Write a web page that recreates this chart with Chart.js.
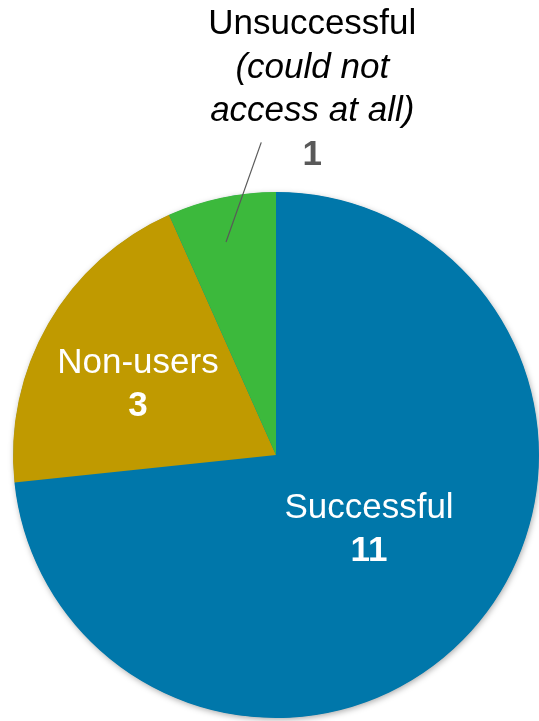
<!DOCTYPE html>
<html>
<head>
<meta charset="utf-8">
<script src="https://cdn.jsdelivr.net/npm/chart.js@4/dist/chart.umd.min.js"></script>
<style>
    body { margin: 0; background: #ffffff; }
    #wrap { width: 539px; height: 721px; }
</style>
</head>
<body>
<div id="wrap"><canvas id="access-pie" width="539" height="721"></canvas></div>
<script>
var categories = ['Successful', 'Non-users', 'Unsuccessful'];
var values = [11, 3, 1];
var notes = [[], [], ['(could not', 'access at all)']];
var sliceColors = ['#0077aa', '#c09a00', '#3cb93c'];

// where each label sits: angle (deg, canvas coords) and radius as share of the pie radius
var labelSpots = [
    { angle: 37.7, r: 0.447, color: '#ffffff', valueColor: '#ffffff', step: 43 },
    { angle: 207.9, r: 0.594, color: '#ffffff', valueColor: '#ffffff', step: 43 },
    { angle: -85, r: 1.6, color: '#000000', valueColor: '#595959', step: 43.5, leader: [0.832, 256.8, 1.19, 267.3] }
];

var FONT = '"Liberation Sans", Arial, sans-serif';

function polar(arc, angleDeg, frac) {
    var a = angleDeg * Math.PI / 180;
    return { x: arc.x + Math.cos(a) * arc.outerRadius * frac, y: arc.y + Math.sin(a) * arc.outerRadius * frac };
}

// soft shadow under the whole pie
var pieShadow = {
    id: 'pieShadow',
    beforeDatasetsDraw: function (chart) {
        var arc = chart.getDatasetMeta(0).data[0];
        var ctx = chart.ctx;
        ctx.save();
        ctx.shadowColor = 'rgba(0,0,0,0.35)';
        ctx.shadowBlur = 6;
        ctx.shadowOffsetX = 1;
        ctx.shadowOffsetY = 2;
        ctx.fillStyle = '#0077aa';
        ctx.beginPath();
        ctx.arc(arc.x, arc.y, arc.outerRadius - 0.5, 0, Math.PI * 2);
        ctx.fill();
        ctx.restore();
    }
};

var sliceLabels = {
    id: 'sliceLabels',
    afterDatasetsDraw: function (chart) {
        var ctx = chart.ctx;
        var arcs = chart.getDatasetMeta(0).data;
        ctx.save();
        ctx.textAlign = 'center';
        ctx.textBaseline = 'alphabetic';
        arcs.forEach(function (arc, i) {
            var spot = labelSpots[i];
            var lines = [{ text: categories[i], font: '35px ' + FONT, color: spot.color }];
            notes[i].forEach(function (n) {
                lines.push({ text: n, font: 'italic 35px ' + FONT, color: spot.color });
            });
            lines.push({ text: String(values[i]), font: 'bold 35px ' + FONT, color: spot.valueColor });
            var step = spot.step;
            var x, top;
            if (spot.leader) {
                var p1 = polar(arc, spot.leader[1], spot.leader[0]);
                var p2 = polar(arc, spot.leader[3], spot.leader[2]);
                ctx.strokeStyle = '#595959';
                ctx.lineWidth = 1.2;
                ctx.beginPath();
                ctx.moveTo(p1.x, p1.y);
                ctx.lineTo(p2.x, p2.y);
                ctx.stroke();
                x = p2.x + 51;
                top = p2.y - 108;
            } else {
                var c = polar(arc, spot.angle, spot.r);
                x = c.x;
                top = c.y - (lines.length * step) / 2 + 34;
            }
            lines.forEach(function (ln, k) {
                ctx.font = ln.font;
                ctx.fillStyle = ln.color;
                ctx.fillText(ln.text, x, top + k * step);
            });
        });
        ctx.restore();
    }
};

var ctx = document.getElementById('access-pie').getContext('2d');
new Chart(ctx, {
    type: 'pie',
    data: {
        labels: categories,
        datasets: [{
            data: values,
            backgroundColor: sliceColors,
            borderWidth: 0
        }]
    },
    options: {
        responsive: false,
        animation: false,
        rotation: 0,
        layout: { padding: { left: 13, right: 0, top: 192, bottom: 3 } },
        plugins: {
            legend: { display: false },
            tooltip: { enabled: false }
        }
    },
    plugins: [pieShadow, sliceLabels]
});
</script>
</body>
</html>
